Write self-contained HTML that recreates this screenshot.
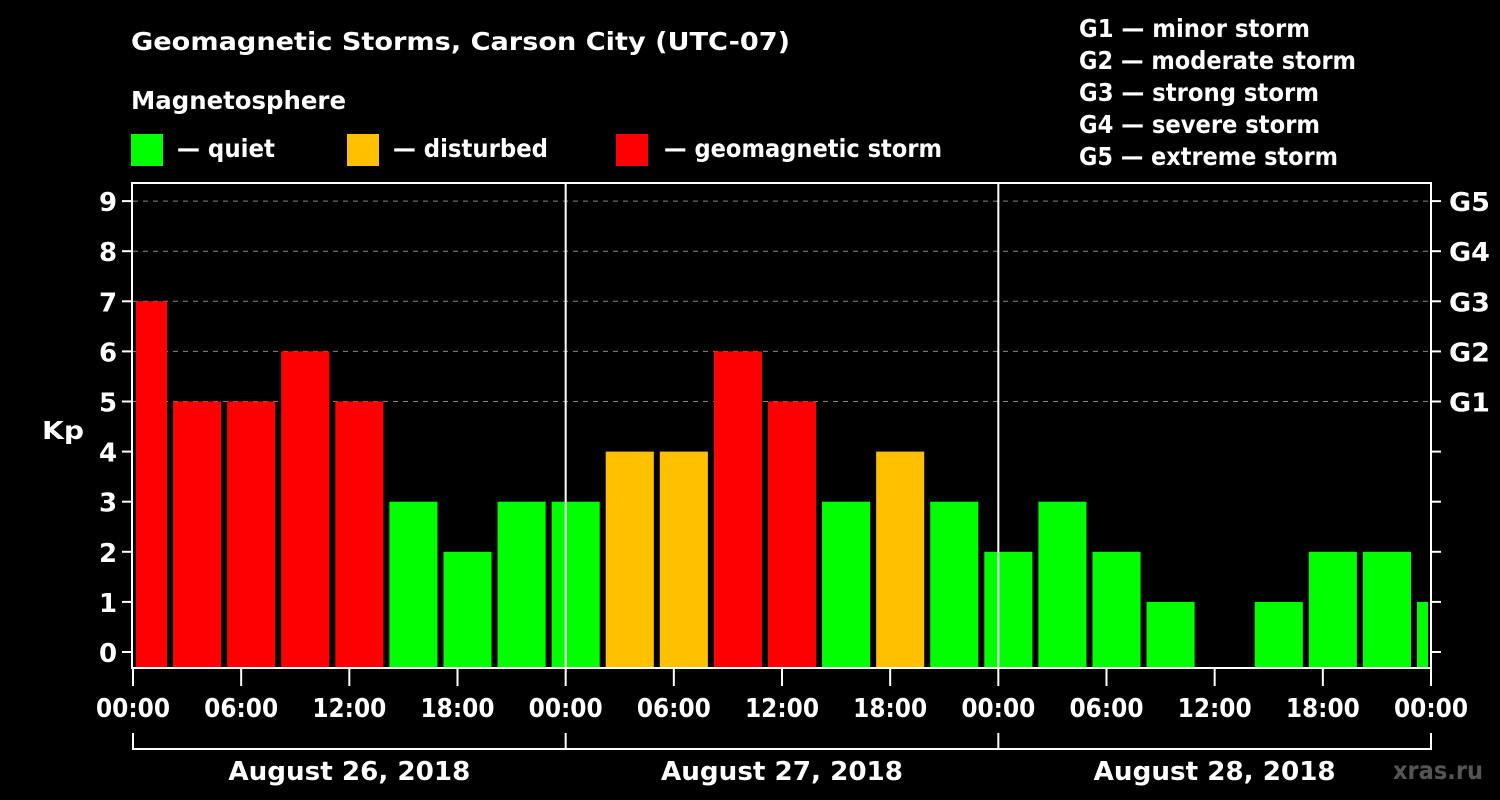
<!DOCTYPE html>
<html><head><meta charset="utf-8">
<style>
html,body{margin:0;padding:0;background:#000;}
svg{display:block;font-family:"DejaVu Sans","Liberation Sans",sans-serif;font-weight:bold;}
</style></head><body>
<svg id="chart" width="1500" height="800" xmlns="http://www.w3.org/2000/svg">
<rect width="1500" height="800" fill="#000"/>
<text x="131" y="50" fill="#fff" font-size="25" textLength="659" lengthAdjust="spacingAndGlyphs">Geomagnetic Storms, Carson City (UTC-07)</text>
<text x="131" y="109" fill="#fff" font-size="25" textLength="215" lengthAdjust="spacingAndGlyphs">Magnetosphere</text>
<g><rect x="131" y="134" width="32" height="32" fill="#00ff00"/><text x="177" y="157" fill="#fff" font-size="25" textLength="98" lengthAdjust="spacingAndGlyphs">— quiet</text></g>
<g><rect x="347" y="134" width="32" height="32" fill="#ffc000"/><text x="393" y="157" fill="#fff" font-size="25" textLength="155" lengthAdjust="spacingAndGlyphs">— disturbed</text></g>
<g><rect x="616" y="134" width="32" height="32" fill="#ff0000"/><text x="664" y="157" fill="#fff" font-size="25" textLength="278" lengthAdjust="spacingAndGlyphs">— geomagnetic storm</text></g>
<g fill="#fff" font-size="25">
<text x="1079" y="37" textLength="231" lengthAdjust="spacingAndGlyphs">G1 — minor storm</text>
<text x="1079" y="69" textLength="277" lengthAdjust="spacingAndGlyphs">G2 — moderate storm</text>
<text x="1079" y="101" textLength="240" lengthAdjust="spacingAndGlyphs">G3 — strong storm</text>
<text x="1079" y="133" textLength="241" lengthAdjust="spacingAndGlyphs">G4 — severe storm</text>
<text x="1079" y="165" textLength="259" lengthAdjust="spacingAndGlyphs">G5 — extreme storm</text>
</g>
<text x="42" y="439" fill="#fff" font-size="25" textLength="42" lengthAdjust="spacingAndGlyphs">Kp</text>
<text x="1393" y="779" fill="#555" font-size="25" textLength="90" lengthAdjust="spacingAndGlyphs">xras.ru</text>
<g id="grid"></g><g id="bars"></g><g id="axes"></g>
</svg>
<script>
const kpValues=[7,5,5,6,5,3,2,3,3,4,4,6,5,3,4,3,2,3,2,1,0,1,2,2,1];
const binStartHour=-1;
const yTicks=[0,1,2,3,4,5,6,7,8,9];
const gLabels=["G1","G2","G3","G4","G5"];
const timeTicks=["00:00","06:00","12:00","18:00","00:00","06:00","12:00","18:00","00:00","06:00","12:00","18:00","00:00"];
const dayLabels=["August 26, 2018","August 27, 2018","August 28, 2018"];
const NS="http://www.w3.org/2000/svg";
const X0=133,X1=1431,Y0=652,YT=183,YB=668;
const xs=h=>X0+(X1-X0)*h/72;
const ys=v=>Y0-v*50.1;
function mk(tag,attrs,parent,text){const e=document.createElementNS(NS,tag);for(const k in attrs)e.setAttribute(k,attrs[k]);if(text!==undefined)e.textContent=text;parent.appendChild(e);return e;}
const grid=document.getElementById('grid'),bars=document.getElementById('bars'),axes=document.getElementById('axes');
yTicks.forEach(v=>{
  if(v>=5){const l=mk('line',{x1:X0,x2:X1,y1:ys(v),y2:ys(v),stroke:'#888','stroke-width':1,'stroke-dasharray':'5,5'},grid);
  
  }
  const t=mk('text',{x:108,y:ys(v)+10,fill:'#fff','font-size':26,'text-anchor':'middle'},axes,String(v));
  
  
  mk('line',{x1:122,x2:X0,y1:ys(v),y2:ys(v),stroke:'#fff','stroke-width':2},axes);
  mk('line',{x1:X1,x2:X1+10,y1:ys(v),y2:ys(v),stroke:'#fff','stroke-width':2},axes);
});
gLabels.forEach((g,i)=>{const t=mk('text',{x:1449,y:ys(5+i)+10,fill:'#fff','font-size':26,textLength:41,lengthAdjust:'spacingAndGlyphs'},axes,g);
  
  });
kpValues.forEach((v,i)=>{
  if(v<=0)return;
  const h0=binStartHour+3*i,h1=h0+3;
  let a=xs(h0)+4,b=xs(h1)-2;
  if(h0<0)a=xs(0)+3;
  if(h1>72)b=xs(72)-3;
  const col=v>=5?'#ff0000':(v>=4?'#ffc000':'#00ff00');
  const r=mk('rect',{x:a,y:ys(v),width:b-a,height:YB-1-ys(v),fill:col},bars);
  
  
});
[24,48].forEach(h=>mk('line',{x1:xs(h),x2:xs(h),y1:YT,y2:YB,stroke:'#fff','stroke-width':2},axes));
const fr=mk('rect',{x:X0-1,y:YT,width:X1-X0+1,height:YB-YT,fill:'none',stroke:'#fff','stroke-width':2},axes);


timeTicks.forEach((t,i)=>{const x=xs(i*6);
  mk('line',{x1:x,x2:x,y1:YB,y2:YB+18,stroke:'#fff','stroke-width':2},axes);
  const e=mk('text',{x:x-37,y:717,fill:'#fff','font-size':26,textLength:74,lengthAdjust:'spacingAndGlyphs'},axes,t);
  
  });
mk('line',{x1:X0,x2:X1,y1:749,y2:749,stroke:'#fff','stroke-width':2},axes);
[0,24,48,72].forEach(h=>mk('line',{x1:xs(h),x2:xs(h),y1:733,y2:750,stroke:'#fff','stroke-width':2},axes));
dayLabels.forEach((d,i)=>{const e=mk('text',{x:xs(i*24+12)-121,y:780,fill:'#fff','font-size':26,textLength:242,lengthAdjust:'spacingAndGlyphs'},axes,d);
  
  });
</script>
</body></html>
